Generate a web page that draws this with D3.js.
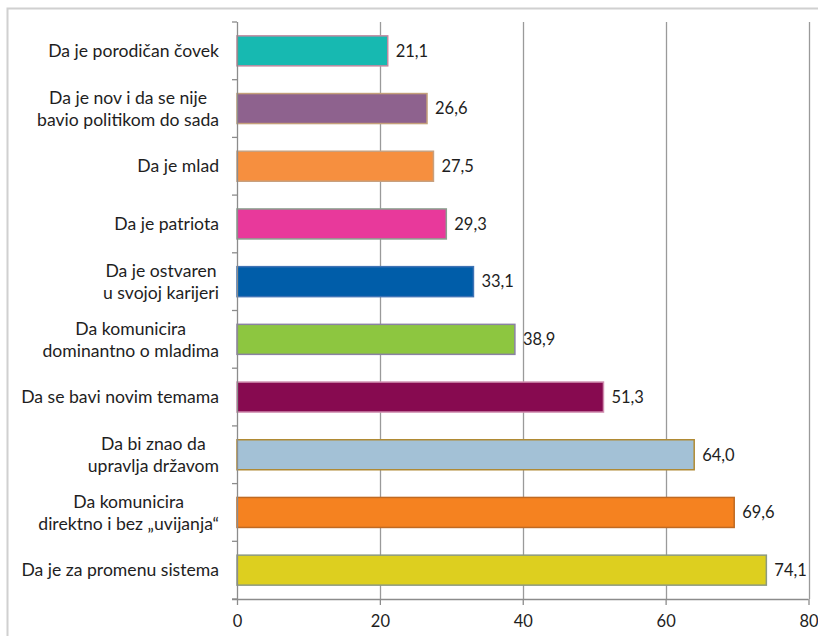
<!DOCTYPE html>
<html><head><meta charset="utf-8">
<script src="https://cdn.jsdelivr.net/npm/d3@7"></script>
<style>body{margin:0;background:#fff}svg{display:block}text{font-family:Lato,"Open Sans",sans-serif;fill:#1e1e1e}</style>
</head><body><svg id="c" width="818" height="636"></svg>
<script>
const categories = [
  ["Da je porodičan čovek"],
  ["Da je nov i da se nije","bavio politikom do sada"],
  ["Da je mlad"],
  ["Da je patriota"],
  ["Da je ostvaren","u svojoj karijeri"],
  ["Da komunicira","dominantno o mladima"],
  ["Da se bavi novim temama"],
  ["Da bi znao da","upravlja državom"],
  ["Da komunicira","direktno i bez „uvijanja“"],
  ["Da je za promenu sistema"]
];
const values = [21.1, 26.6, 27.5, 29.3, 33.1, 38.9, 51.3, 64.0, 69.6, 74.1];
const fills = ["#17b9b1","#8e628e","#f68f3f","#e8399b","#005da9","#8dc640","#870a50","#a3c1d6","#f58220","#ddcf1f"];
const strokes = ["#c08aa0","#c4a07a","#c8a07e","#8aa08f","#3f73b5","#8a82a2","#d08eb0","#b08a34","#c06a22","#8c9a80"];
const xTicks = [0,20,40,60,80];

const svg = d3.select("#c");
svg.append("rect").attr("x",7.5).attr("y",8.5).attr("width",830).attr("height",660)
  .attr("fill","none").attr("stroke","#d0d0d0").attr("stroke-width",2);

const L=237, R=808.5, T=22, B=599;
const x = d3.scaleLinear().domain([0,80]).range([L,R]);
const y = d3.scaleBand().domain(d3.range(categories.length)).range([T,B]).paddingInner(0.48).paddingOuter(0.24);

// gridlines
svg.append("g").selectAll("line").data(xTicks.slice(1)).join("line")
  .attr("x1",d=>Math.round(x(d))+0.5).attr("x2",d=>Math.round(x(d))+0.5)
  .attr("y1",T).attr("y2",B).attr("stroke","#9a9a9a").attr("stroke-width",1.3);

// bars
svg.append("g").selectAll("rect").data(values).join("rect")
  .attr("x",x(0)).attr("y",(d,i)=>y(i)).attr("width",d=>x(d)-x(0)).attr("height",y.bandwidth())
  .attr("fill",(d,i)=>fills[i]).attr("stroke",(d,i)=>strokes[i]).attr("stroke-width",1.5);

// value labels
svg.append("g").selectAll("text").data(values).join("text")
  .attr("x",d=>x(d)+8).attr("y",(d,i)=>y(i)+y.bandwidth()/2).attr("dy","0.35em")
  .attr("font-size",16.5).text(d=>d3.format(".1f")(d).replace(".",","));

// x axis
const xa = svg.append("g").attr("transform",`translate(0,${B})`)
  .call(d3.axisBottom(x).tickValues(xTicks).tickSize(6).tickPadding(10).tickFormat(d=>d));
xa.select(".domain").remove();
xa.selectAll("line").attr("stroke","#8c8c8c").attr("stroke-width",1.3);
xa.selectAll("text").attr("font-size",16.5).attr("font-family","Lato,'Open Sans',sans-serif").attr("fill","#1e1e1e");
svg.append("line").attr("x1",L-5).attr("x2",R).attr("y1",B+0.5).attr("y2",B+0.5).attr("stroke","#8c8c8c").attr("stroke-width",1.3);

// y axis line + ticks at band boundaries
svg.append("line").attr("x1",L+0.5).attr("x2",L+0.5).attr("y1",T).attr("y2",B).attr("stroke","#8c8c8c").attr("stroke-width",1.3);
svg.append("g").selectAll("line").data(d3.range(categories.length+1)).join("line")
  .attr("x1",L-5).attr("x2",L).attr("y1",i=>T+i*(B-T)/categories.length).attr("y2",i=>T+i*(B-T)/categories.length)
  .attr("stroke","#8c8c8c").attr("stroke-width",1.3);

// category labels
const lab = svg.append("g");
categories.forEach((lines,i)=>{
  const cy = y(i)+y.bandwidth()/2;
  const lh = 22;
  const g = lab.append("g");
  const ts = lines.map((t,j)=>g.append("text").attr("font-size",17.6).attr("text-anchor","middle")
     .attr("y",cy + (j-(lines.length-1)/2)*lh).attr("dy","0.35em").text(t));
  const w = d3.max(ts,t=>t.node().getComputedTextLength());
  ts.forEach(t=>t.attr("x",219 - w/2));
});
</script></body></html>
